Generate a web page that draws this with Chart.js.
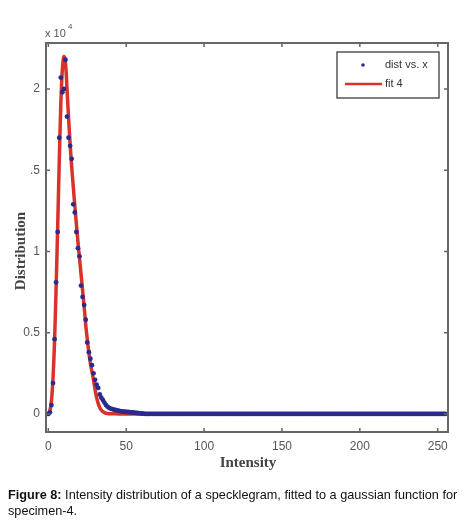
<!DOCTYPE html>
<html>
<head>
<meta charset="utf-8">
<script src="https://cdn.jsdelivr.net/npm/chart.js@4"></script>
<style>
  body { margin: 0; background: #fff; }
  #wrap { position: relative; width: 466px; height: 526px; }
  #caption {
    position: absolute; left: 8px; top: 487px; width: 458px;
    font: 12.7px "Liberation Sans", Arial, sans-serif; color: #111; line-height: 16px;
  }
</style>
</head>
<body>
<div id="wrap">
  <canvas id="chart" width="466" height="526"></canvas>
  <div id="caption"><b>Figure 8:</b> Intensity distribution of a specklegram, fitted to a gaussian function for specimen-4.</div>
</div>
<script>
// measured distribution (x 10^4), one value per intensity level 0..255
const distValues = [
  0, 0.01, 0.055, 0.19, 0.46, 0.81, 1.12, 1.70, 2.07, 1.98,
  2.00, 2.18, 1.83, 1.70, 1.65, 1.57, 1.29, 1.24, 1.12, 1.02,
  0.97, 0.79, 0.72, 0.67, 0.58, 0.44, 0.38, 0.34, 0.30, 0.25,
  0.21, 0.18, 0.16, 0.12, 0.10, 0.086, 0.07, 0.055, 0.045, 0.038,
  0.033, 0.030, 0.027, 0.025, 0.022, 0.020, 0.018, 0.016, 0.015, 0.014,
  0.013, 0.012, 0.011, 0.010, 0.009, 0.008, 0.007, 0.006, 0.005, 0.004,
  0.003, 0.002, 0.001, 0, 0, 0, 0, 0, 0, 0,
  0, 0, 0, 0, 0, 0, 0, 0, 0, 0, 0, 0, 0, 0, 0, 0, 0, 0, 0, 0,
  0, 0, 0, 0, 0, 0, 0, 0, 0, 0, 0, 0, 0, 0, 0, 0, 0, 0, 0, 0,
  0, 0, 0, 0, 0, 0, 0, 0, 0, 0, 0, 0, 0, 0, 0, 0, 0, 0, 0, 0,
  0, 0, 0, 0, 0, 0, 0, 0, 0, 0, 0, 0, 0, 0, 0, 0, 0, 0, 0, 0,
  0, 0, 0, 0, 0, 0, 0, 0, 0, 0, 0, 0, 0, 0, 0, 0, 0, 0, 0, 0,
  0, 0, 0, 0, 0, 0, 0, 0, 0, 0, 0, 0, 0, 0, 0, 0, 0, 0, 0, 0,
  0, 0, 0, 0, 0, 0, 0, 0, 0, 0, 0, 0, 0, 0, 0, 0, 0, 0, 0, 0,
  0, 0, 0, 0, 0, 0, 0, 0, 0, 0, 0, 0, 0, 0, 0, 0, 0, 0, 0, 0,
  0, 0, 0, 0, 0, 0, 0, 0, 0, 0, 0, 0, 0, 0, 0, 0, 0, 0, 0, 0,
  0, 0, 0, 0, 0, 0
];

// fitted curve ("fit 4")
const fitX = [0, 1, 2, 3, 4, 5, 6, 7, 8, 9, 10, 11, 12, 13, 14, 15, 16, 17, 18, 19,
  20, 21, 22, 23, 24, 25, 26, 27, 28, 29, 30, 31, 32, 33, 34, 35, 36, 37, 39, 42, 45, 255];
const fitY = [0, 0.02, 0.08, 0.22, 0.45, 0.78, 1.15, 1.55, 1.90, 2.12, 2.20, 2.16, 2.00, 1.82, 1.66, 1.52, 1.40, 1.28, 1.17, 1.06,
  0.96, 0.86, 0.76, 0.66, 0.55, 0.46, 0.38, 0.31, 0.26, 0.21, 0.15, 0.10, 0.065, 0.04, 0.024, 0.014, 0.008, 0.004, 0.002, 0.001, 0, 0];

const xTicks = [0, 50, 100, 150, 200, 250];
const yTicks = [0, 0.5, 1, 1.5, 2];
const yTickLabels = ['0', '0.5', '1', '.5', '2'];

const axisColor = '#666';

const matlabBox = {
  id: 'matlabBox',
  afterDraw(chart) {
    const ctx = chart.ctx;
    const a = chart.chartArea;
    const xs = chart.scales.x, ys = chart.scales.y;
    ctx.save();
    ctx.strokeStyle = axisColor;
    ctx.lineWidth = 2;
    ctx.strokeRect(a.left, a.top, a.right - a.left, a.bottom - a.top);
    ctx.lineWidth = 1.5;
    ctx.beginPath();
    xTicks.forEach(v => {
      const px = xs.getPixelForValue(v);
      ctx.moveTo(px, a.bottom); ctx.lineTo(px, a.bottom - 4);
      ctx.moveTo(px, a.top); ctx.lineTo(px, a.top + 4);
    });
    yTicks.forEach(v => {
      const py = ys.getPixelForValue(v);
      ctx.moveTo(a.left, py); ctx.lineTo(a.left + 4, py);
      ctx.moveTo(a.right, py); ctx.lineTo(a.right - 4, py);
    });
    ctx.stroke();

    // axis titles
    ctx.fillStyle = '#444';
    ctx.font = 'bold 15px "Liberation Serif", serif';
    ctx.textAlign = 'center';
    ctx.textBaseline = 'middle';
    ctx.fillText('Intensity', (a.left + a.right) / 2 + 1, 463);
    ctx.save();
    ctx.translate(21, 251);
    ctx.rotate(-Math.PI / 2);
    ctx.fillText('Distribution', 0, 0);
    ctx.restore();

    // exponent label
    ctx.fillStyle = '#555';
    ctx.font = '11px "Liberation Sans", sans-serif';
    ctx.textAlign = 'left';
    ctx.fillText('x 10', 45, 34);
    ctx.font = '8px "Liberation Sans", sans-serif';
    ctx.fillText('4', 68, 27);

    // legend box
    const ds = chart.data.datasets;
    ctx.fillStyle = '#fff';
    ctx.fillRect(337, 52, 102, 46);
    ctx.strokeStyle = '#555';
    ctx.lineWidth = 1.5;
    ctx.strokeRect(337, 52, 102, 46);
    ctx.fillStyle = ds[0].pointBackgroundColor;
    ctx.beginPath();
    ctx.arc(363, 65, 1.8, 0, Math.PI * 2);
    ctx.fill();
    ctx.strokeStyle = ds[1].borderColor;
    ctx.lineWidth = 2.5;
    ctx.beginPath();
    ctx.moveTo(345, 84); ctx.lineTo(382, 84);
    ctx.stroke();
    ctx.fillStyle = '#333';
    ctx.font = '11px "Liberation Sans", sans-serif';
    ctx.fillText(ds[0].label, 385, 65);
    ctx.fillText(ds[1].label, 385, 84);
    ctx.restore();
  }
};

new Chart(document.getElementById('chart').getContext('2d'), {
  type: 'scatter',
  data: {
    datasets: [{
      label: 'dist vs. x',
      data: distValues.map((v, i) => ({ x: i, y: v })),
      showLine: false,
      pointRadius: 2.4,
      pointBorderWidth: 0,
      pointBackgroundColor: '#2a2a8e',
      pointBorderColor: '#2a2a8e',
      order: 0
    }, {
      label: 'fit 4',
      data: fitX.map((x, i) => ({ x: x, y: fitY[i] })),
      showLine: true,
      pointRadius: 0,
      borderColor: '#d8322a',
      borderWidth: 3.5,
      tension: 0.3,
      order: 1
    }]
  },
  options: {
    responsive: false,
    animation: false,
    layout: { padding: { top: 43, right: 18, bottom: 64, left: 0 } },
    plugins: { legend: { display: false }, tooltip: { enabled: false } },
    scales: {
      x: {
        type: 'linear',
        min: -1.5,
        max: 256.6,
        afterBuildTicks: s => { s.ticks = xTicks.map(v => ({ value: v })); },
        afterFit: s => { s.height = 30; },
        grid: { display: false, drawTicks: false },
        border: { display: false },
        ticks: { color: '#555', padding: 7, maxRotation: 0, font: { size: 12, family: '"Liberation Sans", sans-serif' } }
      },
      y: {
        min: -0.111,
        max: 2.283,
        afterBuildTicks: s => { s.ticks = yTicks.map(v => ({ value: v })); },
        afterFit: s => { s.width = 46; },
        grid: { display: false, drawTicks: false },
        border: { display: false },
        ticks: {
          color: '#555', padding: 6,
          font: { size: 12, family: '"Liberation Sans", sans-serif' },
          callback: (v, i) => yTickLabels[i]
        }
      }
    }
  },
  plugins: [matlabBox]
});
</script>
</body>
</html>
